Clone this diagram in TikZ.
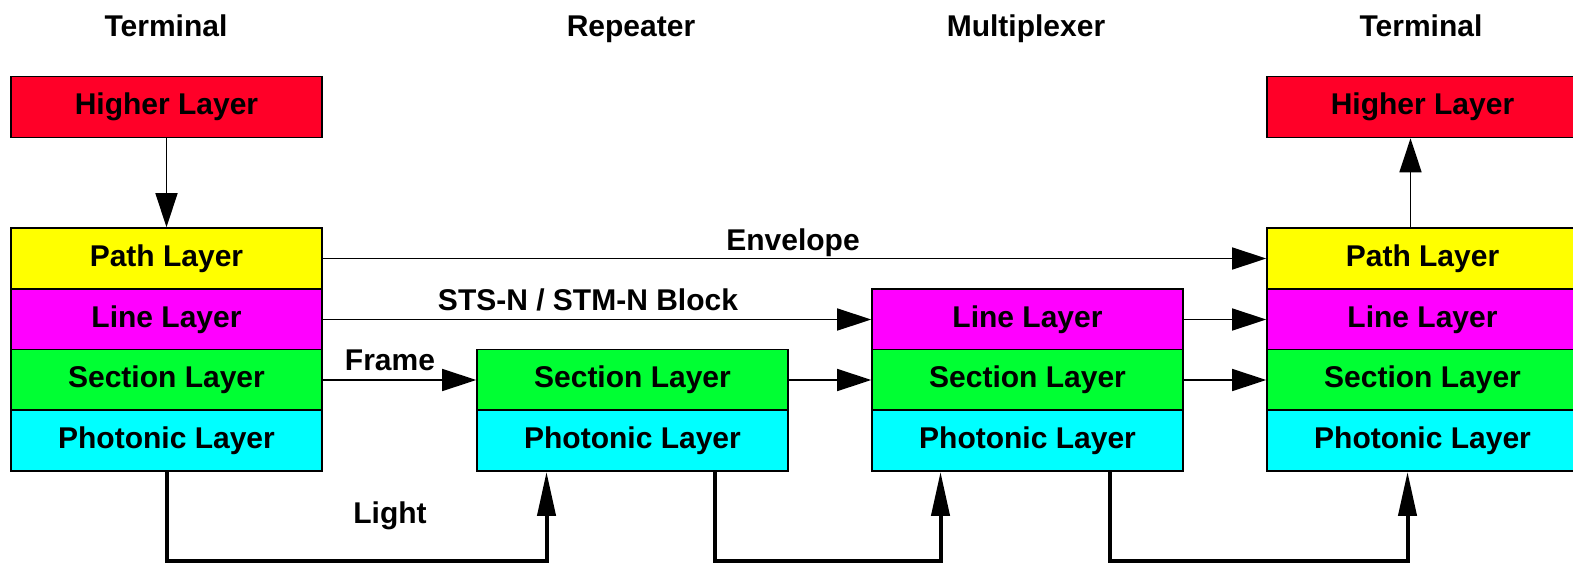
\documentclass[tikz,border=0pt]{standalone}
\usepackage{fontspec}
\setmainfont{Liberation Sans}
\usetikzlibrary{arrows.meta}
\definecolor{hlred}{RGB}{255,0,40}
\definecolor{pathyel}{RGB}{255,255,0}
\definecolor{linemag}{RGB}{255,0,255}
\definecolor{secgreen}{RGB}{0,255,51}
\definecolor{phocyan}{RGB}{0,255,255}
\begin{document}
\begin{tikzpicture}[x=0.5pt, y=-0.5pt, font=\fontsize{15}{18}\selectfont\bfseries,
	layer/.style={draw, line width=0.8pt, minimum width=155.5pt, minimum height=30.5pt, inner sep=0pt},
	lbl/.style={inner sep=0pt, text height=11pt, text depth=3pt},
	arr/.style={line width=0.8pt, -{Triangle[length=17pt,width=11pt]}},
	light/.style={line width=2pt, -{Triangle[length=22pt,width=9pt]}}]
		\useasboundingbox (0,0) rectangle (1573,562);
		% column titles
		\node[lbl] (t1) at (166,28) {Terminal};
		\node[lbl] (t2) at (631,28) {Repeater};
		\node[lbl] (t3) at (1026,28) {Multiplexer};
		\node[lbl] (t4) at (1421,28) {Terminal};
		% left terminal
		\node[layer, fill=hlred] (hl1) at (166.5,107) {Higher Layer};
		\node[layer, fill=pathyel] (path1) at (166.5,258.5) {Path Layer};
		\node[layer, fill=linemag] (line1) at (166.5,319.5) {Line Layer};
		\node[layer, fill=secgreen] (sec1) at (166.5,380) {Section Layer};
		\node[layer, fill=phocyan] (pho1) at (166.5,440.5) {Photonic Layer};
		% repeater
		\node[layer, fill=secgreen] (sec2) at (632.5,380) {Section Layer};
		\node[layer, fill=phocyan] (pho2) at (632.5,440.5) {Photonic Layer};
		% multiplexer
		\node[layer, fill=linemag] (line3) at (1027.5,319.5) {Line Layer};
		\node[layer, fill=secgreen] (sec3) at (1027.5,380) {Section Layer};
		\node[layer, fill=phocyan] (pho3) at (1027.5,440.5) {Photonic Layer};
		% right terminal
		\node[layer, fill=hlred] (hl4) at (1422.5,107) {Higher Layer};
		\node[layer, fill=pathyel] (path4) at (1422.5,258.5) {Path Layer};
		\node[layer, fill=linemag] (line4) at (1422.5,319.5) {Line Layer};
		\node[layer, fill=secgreen] (sec4) at (1422.5,380) {Section Layer};
		\node[layer, fill=phocyan] (pho4) at (1422.5,440.5) {Photonic Layer};
		% peer links
		\draw[arr] (hl1) -- (path1);
		\draw[arr] ([xshift=-6pt]path4.north) -- ([xshift=-6pt]hl4.south);
		\draw[arr] (path1.east) -- (path4.west);
		\draw[arr] (line1.east) -- (line3.west);
		\draw[arr] (sec1.east) -- (sec2.west);
		\draw[arr] (sec2.east) -- (sec3.west);
		\draw[arr] (line3.east) -- (line4.west);
		\draw[arr] (sec3.east) -- (sec4.west);
		\node[lbl] (env) at (793,242) {Envelope};
		\node[lbl] (blk) at (588,302) {STS-N / STM-N Block};
		\node[lbl] (frm) at (390,362) {Frame};
		% fibre
		\draw[light] (pho1.south) -- ++(0,89) -| ([xshift=-43pt]pho2.south);
		\draw[light] ([xshift=41pt]pho2.south) -- ++(0,89) -| ([xshift=-43.5pt]pho3.south);
		\draw[light] ([xshift=41pt]pho3.south) -- ++(0,89) -| ([xshift=-7.5pt]pho4.south);
		\node[lbl] (lgt) at (390,515) {Light};
\end{tikzpicture}
\end{document}
